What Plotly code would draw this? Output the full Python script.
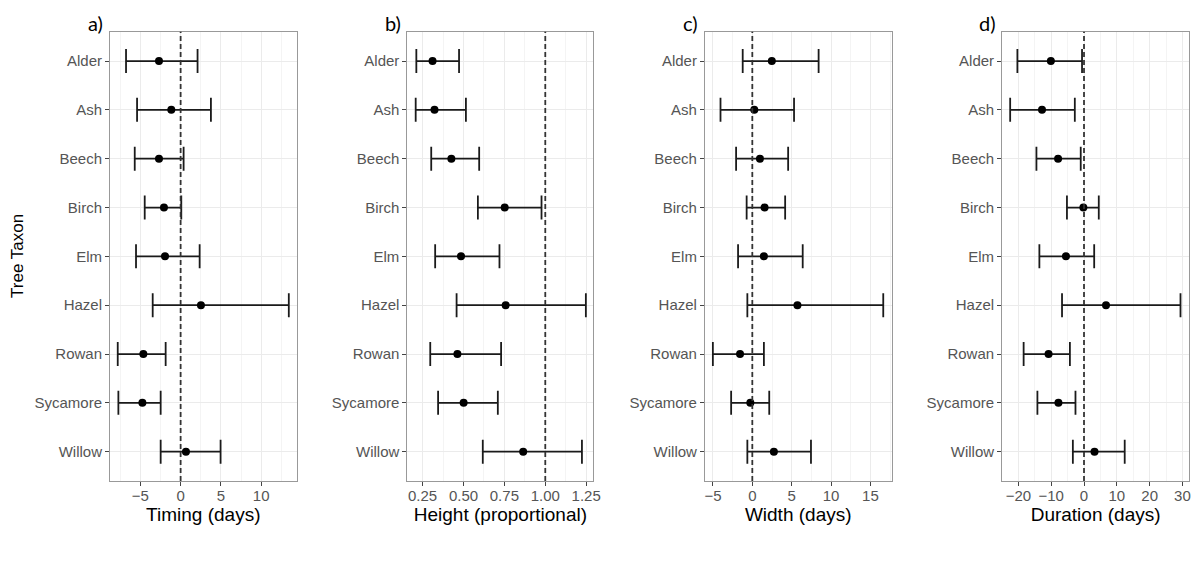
import plotly.graph_objects as go

taxa = ["Alder", "Ash", "Beech", "Birch", "Elm", "Hazel", "Rowan", "Sycamore", "Willow"]

timing_est = [-2.69, -1.16, -2.69, -2.07, -1.94, 2.52, -4.63, -4.75, 0.66]
timing_lo = [-6.78, -5.41, -5.70, -4.46, -5.54, -3.47, -7.81, -7.73, -2.48]
timing_hi = [2.10, 3.76, 0.37, 0.08, 2.36, 13.43, -1.86, -2.48, 4.96]

height_est = [0.311, 0.323, 0.426, 0.752, 0.485, 0.758, 0.463, 0.501, 0.865]
height_lo = [0.212, 0.208, 0.303, 0.588, 0.327, 0.458, 0.297, 0.345, 0.618]
height_hi = [0.473, 0.515, 0.596, 0.977, 0.720, 1.248, 0.730, 0.710, 1.224]

width_est = [2.48, 0.25, 0.97, 1.56, 1.47, 5.73, -1.56, -0.25, 2.74]
width_lo = [-1.22, -4.04, -2.06, -0.72, -1.81, -0.63, -5.01, -2.69, -0.63]
width_hi = [8.42, 5.30, 4.55, 4.17, 6.40, 16.63, 1.47, 2.15, 7.45]

dur_est = [-10.1, -12.8, -7.9, -0.2, -5.5, 6.7, -10.8, -7.8, 3.2]
dur_lo = [-20.3, -22.5, -14.5, -5.2, -13.6, -6.7, -18.4, -14.2, -3.4]
dur_hi = [-0.6, -2.8, -1.0, 4.5, 3.1, 29.4, -4.3, -2.6, 12.4]

panels = [
    dict(est=timing_est, lo=timing_lo, hi=timing_hi, title="Timing (days)", label="a)",
         ref=0, rng=[-8.77, 14.4], dtick=5, tick0=0, fmt="", dom=[0.0919, 0.2478]),
    dict(est=height_est, lo=height_lo, hi=height_hi, title="Height (proportional)", label="b)",
         ref=1, rng=[0.157, 1.2945], dtick=0.25, tick0=0.25, fmt=".2f", dom=[0.3403, 0.4958]),
    dict(est=width_est, lo=width_lo, hi=width_hi, title="Width (days)", label="c)",
         ref=0, rng=[-6.02, 17.68], dtick=5, tick0=0, fmt="", dom=[0.5889, 0.7448]),
    dict(est=dur_est, lo=dur_lo, hi=dur_hi, title="Duration (days)", label="d)",
         ref=0, rng=[-24.95, 32.02], dtick=10, tick0=0, fmt="", dom=[0.8372, 0.9934]),
]

fig = go.Figure()
ydom = [0.1664, 0.945]
grid_major = "#ebebeb"
grid_minor = "#f4f4f4"
tickfont = dict(family="Liberation Sans, Arial, sans-serif", size=15, color="#555555")

for i, p in enumerate(panels, start=1):
    xa = "x" if i == 1 else f"x{i}"
    ya = "y" if i == 1 else f"y{i}"
    plus = [h - e for h, e in zip(p["hi"], p["est"])]
    minus = [e - l for e, l in zip(p["est"], p["lo"])]
    fig.add_trace(go.Scatter(
        x=p["est"], y=taxa, mode="markers", xaxis=xa, yaxis=ya,
        marker=dict(color="black", size=8),
        error_x=dict(type="data", array=plus, arrayminus=minus, symmetric=False,
                     color="#1a1a1a", thickness=1.8, width=12),
        showlegend=False,
    ))
    fig.add_shape(type="line", xref=xa, yref=f"{ya} domain", x0=p["ref"], x1=p["ref"],
                  y0=0, y1=1, line=dict(color="#333333", width=1.8, dash="5px,3px"), layer="above")
    fig.add_annotation(text=p["label"], xref="paper", yref="paper",
                       x=p["dom"][0] - 0.012, y=0.985, xanchor="center", yanchor="top",
                       showarrow=False, font=dict(family="Lato, Liberation Sans, sans-serif", size=20, color="black"))
    key_x = "xaxis" if i == 1 else f"xaxis{i}"
    key_y = "yaxis" if i == 1 else f"yaxis{i}"
    fig.layout[key_x] = dict(
        domain=p["dom"], anchor=ya, range=p["rng"], tick0=p["tick0"], dtick=p["dtick"],
        tickformat=p["fmt"], showgrid=True, gridcolor=grid_major, gridwidth=1,
        minor=dict(dtick=p["dtick"] / 2, tick0=p["tick0"], showgrid=True, gridcolor=grid_minor, gridwidth=1),
        zeroline=False, showline=True, linecolor="#999999", linewidth=1, mirror=True,
        ticks="outside", ticklen=4, tickcolor="#444444", tickwidth=1,
        ticklabelstandoff=-3,
        tickfont=tickfont,
        title=dict(text=p["title"], font=dict(family="Liberation Sans, Arial, sans-serif", size=19, color="black"), standoff=0),
    )
    fig.layout[key_y] = dict(
        domain=ydom, anchor=xa, type="category", categoryorder="array", categoryarray=taxa,
        range=[8.6, -0.6], showgrid=True, gridcolor=grid_major, gridwidth=1,
        zeroline=False, showline=True, linecolor="#999999", linewidth=1, mirror=True,
        ticks="outside", ticklen=4, tickcolor="#444444", tickwidth=1,
        tickfont=tickfont,
    )

fig.add_annotation(text="Tree Taxon", xref="paper", yref="paper", x=0.014, y=0.556,
                   textangle=-90, showarrow=False, xanchor="center", yanchor="middle",
                   font=dict(family="Liberation Sans, Arial, sans-serif", size=17, color="black"))

fig.update_layout(width=1204, height=577, margin=dict(l=0, r=0, t=0, b=0),
                  plot_bgcolor="white", paper_bgcolor="white")

fig.write_html("out.html")
